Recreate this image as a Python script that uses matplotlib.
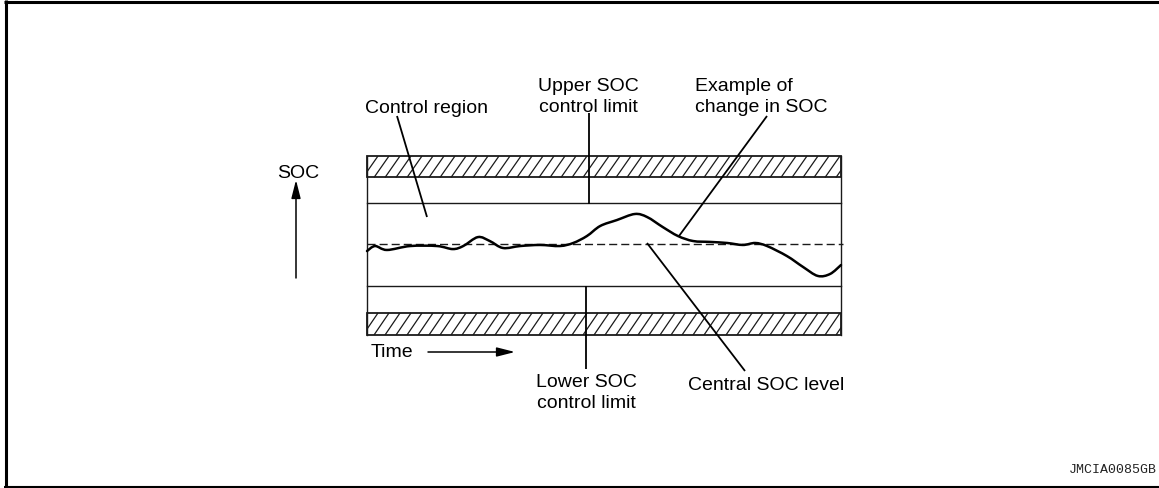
import numpy as np
import matplotlib
matplotlib.use("Agg")
import matplotlib.pyplot as plt
from matplotlib.patches import Rectangle, PathPatch
from matplotlib.path import Path
from matplotlib.collections import LineCollection

# SOC levels on a 0-100 vertical scale of the diagram
upper_band = (88.0, 100.0)     # hatched zone above the upper limit
upper_limit = 73.7
central_level = 50.8
lower_limit = 27.4
lower_band = (0.0, 12.3)       # hatched zone below the lower limit

# Example SOC trace over time (0-100)
time = [0.0, 1.7, 4.2, 9.1, 14.8, 18.1, 20.3, 23.4, 25.9, 28.7, 32.3, 36.5,
        40.7, 43.5, 46.4, 49.2, 52.7, 56.5, 59.1, 62.4, 65.6, 68.8, 72.4,
        76.0, 79.3, 81.9, 84.4, 88.6, 92.0, 95.1, 97.7, 100.0]
soc = [46.9, 49.7, 47.5, 49.7, 49.7, 48.0, 49.7, 54.7, 52.5, 48.6, 49.7, 50.3,
       49.7, 51.4, 55.3, 60.9, 64.2, 67.6, 65.9, 60.3, 55.3, 52.5, 52.0,
       51.4, 50.3, 51.4, 49.7, 44.1, 38.0, 33.0, 34.1, 39.1]

labels_upper = ["Upper SOC", "control limit"]
labels_lower = ["Lower SOC", "control limit"]
labels_example = ["Example of", "change in SOC"]
label_region = "Control region"
label_central = "Central SOC level"
label_soc = "SOC"
label_time = "Time"
code_label = "JMCIA0085GB"

W, H = 1159, 489
plt.rcParams['font.family'] = ['Liberation Sans', 'DejaVu Sans']
fig = plt.figure(figsize=(W / 100, H / 100), dpi=100)
fig.patch.set_facecolor("white")

# Diagram box (pixel placement of the SOC band)
bx0, bx1, by_top, by_bot = 367, 841, 157, 336
ax = fig.add_axes([bx0 / W, (H - by_bot) / H, (bx1 - bx0) / W, (by_bot - by_top) / H])
ax.set_xlim(0, 100)
ax.set_ylim(0, 100)
ax.axis("off")

line_col = "#1a1a1a"
px_x = (bx1 - bx0) / 100.0

def hatched_band(lo, hi):
    rect = Rectangle((0, lo), 100, hi - lo, facecolor="none", edgecolor=line_col,
                     lw=1.3, clip_on=False, zorder=3)
    ax.add_patch(rect)
    spacing = 11.0 / px_x
    slant = 15.0 / px_x
    starts = np.arange(-slant, 100 + spacing, spacing)
    segs = [[(s, lo), (s + slant, hi)] for s in starts]
    lc = LineCollection(segs, colors=line_col, linewidths=0.9, zorder=2)
    lc.set_clip_path(rect)
    ax.add_collection(lc)

hatched_band(*upper_band)
hatched_band(*lower_band)

# Outer box sides and limit lines
ax.plot([0, 0], [0, 100], color=line_col, lw=1.0, clip_on=False)
ax.plot([100, 100], [0, 100], color=line_col, lw=1.0, clip_on=False)
ax.plot([0, 100], [upper_limit, upper_limit], color=line_col, lw=1.0, clip_on=False)
ax.plot([0, 100], [lower_limit, lower_limit], color=line_col, lw=1.0, clip_on=False)
ax.plot([0, 100.5], [central_level, central_level], color=line_col, lw=1.0,
        dashes=(5.8, 2.9), clip_on=False)

# SOC trace drawn as a smooth cubic Bezier through the readings
def smooth_path(xs, ys):
    pts = np.column_stack([xs, ys])
    # work in display-like proportions so tangents are not distorted
    scale = np.array([px_x, (by_bot - by_top) / 100.0])
    p = pts * scale
    verts = [tuple(pts[0])]
    codes = [Path.MOVETO]
    n = len(p)
    for i in range(n - 1):
        p0 = p[i - 1] if i > 0 else p[i]
        p1, p2 = p[i], p[i + 1]
        p3 = p[i + 2] if i + 2 < n else p[i + 1]
        c1 = p1 + (p2 - p0) / 6.0
        c2 = p2 - (p3 - p1) / 6.0
        verts += [tuple(c1 / scale), tuple(c2 / scale), tuple(p2 / scale)]
        codes += [Path.CURVE4] * 3
    return Path(verts, codes)

trace = PathPatch(smooth_path(time, soc), facecolor="none", edgecolor="black",
                  lw=1.8, joinstyle="round", capstyle="round", clip_on=False, zorder=4)
ax.add_patch(trace)

# Overlay in pixel space for frame, leaders and labels
ov = fig.add_axes([0, 0, 1, 1])
ov.set_xlim(0, W)
ov.set_ylim(H, 0)
ov.axis("off")
ov.patch.set_alpha(0)

# Frame
ov.plot([4, W], [2.5, 2.5], color="black", lw=2.2, solid_capstyle="butt")
ov.plot([5.5, 5.5], [1, H - 1], color="black", lw=2.2, solid_capstyle="butt")
ov.plot([4, W], [487.5, 487.5], color="black", lw=1.5, solid_capstyle="butt")

lead = dict(color="black", lw=1.3, solid_capstyle="butt")
ov.plot([397, 427], [117, 218], **lead)          # control region
ov.plot([589, 589], [114, 205], **lead)          # upper limit
ov.plot([767, 679], [117, 237], **lead)          # example trace
ov.plot([647, 745], [244, 372], **lead)          # central level
ov.plot([586, 586], [287, 370], **lead)          # lower limit

# Axis arrows
ov.annotate("", xy=(296, 181), xytext=(296, 279),
            arrowprops=dict(arrowstyle="-|>,head_length=1.1,head_width=0.28",
                            color="black", lw=1.1, shrinkA=0, shrinkB=0))
ov.annotate("", xy=(515, 353), xytext=(428, 353),
            arrowprops=dict(arrowstyle="-|>,head_length=1.1,head_width=0.28",
                            color="black", lw=1.1, shrinkA=0, shrinkB=0))

fs = 14
tk = dict(fontsize=fs, color="black", va="baseline")
ov.text(365, 113, label_region, ha="left", **tk)
ov.text(588, 91, labels_upper[0], ha="center", **tk)
ov.text(588, 112.5, labels_upper[1], ha="center", **tk)
ov.text(695, 91, labels_example[0], ha="left", **tk)
ov.text(695, 112.5, labels_example[1], ha="left", **tk)
ov.text(586, 387, labels_lower[0], ha="center", **tk)
ov.text(586, 408, labels_lower[1], ha="center", **tk)
ov.text(688, 390, label_central, ha="left", **tk)
ov.text(298, 178, label_soc, ha="center", **tk)
ov.text(371, 357, label_time, ha="left", **tk)
ov.text(1157, 473, code_label, ha="right", va="baseline", fontsize=9.5,
        family=["Liberation Mono", "DejaVu Sans Mono"], color="#222222")

fig.savefig("out.png", dpi=100, facecolor="white")
